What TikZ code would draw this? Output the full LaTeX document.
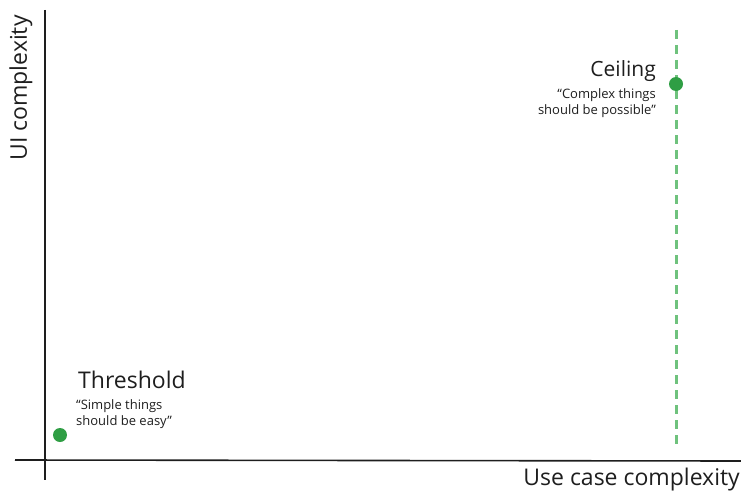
\documentclass[tikz,border=0pt]{standalone}
\usepackage{fontspec}
\setmainfont{Open Sans}
\definecolor{dotgreen}{HTML}{2F9E44}
\definecolor{dashgreen}{HTML}{6FC27D}
\definecolor{ink}{HTML}{1E1E1E}
\begin{document}
\begin{tikzpicture}[x=1pt,y=-1pt,
  axis/.style={draw=ink,line width=1.6pt},
  dot/.style={circle,fill=dotgreen,inner sep=0pt,minimum size=14pt},
  title/.style={font=\fontsize{#1}{24}\selectfont,text=ink,inner sep=0pt},
  quote/.style={font=\fontsize{13}{16}\selectfont,text=ink,inner sep=0pt,align=#1},
  axlabel/.style={font=\fontsize{23}{26}\selectfont,text=ink,inner sep=0pt}]
\useasboundingbox (0,0) rectangle (741,495);
% axes
\coordinate (ytop) at (45,10);
\coordinate (ybot) at (45,480);
\coordinate (xl) at (15,460);
\coordinate (xr) at (741,461);
\draw[axis] (ytop) -- (ybot);
\draw[axis] (xl) -- (xr);
\node[axlabel,rotate=90] (ylab) at (21,88) {UI complexity};
\node[axlabel,anchor=east] (xlab) at (740,480) {Use case complexity};
% ceiling
\coordinate (ctop) at (676,30);
\coordinate (cbot) at (676,447);
\draw[dashgreen,line width=3pt,dash pattern=on 9pt off 6pt] (ctop) -- (cbot);
\node[dot] (cdot) at (676,84) {};
\node[title=21,anchor=east] (ceil) at (656,71) {Ceiling};
\node[quote=right,anchor=north east] (cq) at (656,88) {“Complex things\\should be possible”};
% threshold
\node[dot] (tdot) at (60,435) {};
\node[title=23,anchor=west] (thr) at (78,380) {Threshold};
\node[quote=left,anchor=north west] (tq) at (76,399) {“Simple things\\should be easy”};
\end{tikzpicture}
\end{document}
